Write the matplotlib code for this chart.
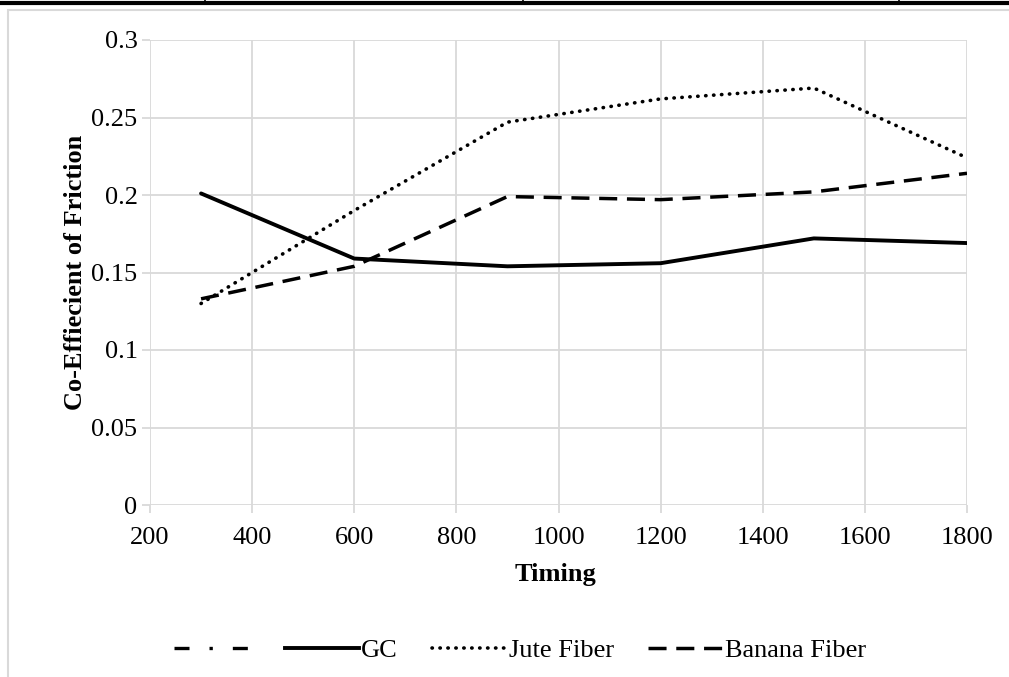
import matplotlib
matplotlib.use('Agg')
import matplotlib.pyplot as plt
from matplotlib.lines import Line2D
from matplotlib.patches import Rectangle

plt.rcParams['font.family'] = ['Liberation Serif', 'DejaVu Serif']

# data
timing = [300, 600, 900, 1200, 1500, 1800]
gc = [0.201, 0.159, 0.154, 0.156, 0.172, 0.169]
jute = [0.130, 0.190, 0.247, 0.262, 0.269, 0.224]
banana = [0.133, 0.154, 0.199, 0.197, 0.202, 0.214]

x_ticks = [200, 400, 600, 800, 1000, 1200, 1400, 1600, 1800]
y_ticks = [0, 0.05, 0.1, 0.15, 0.2, 0.25, 0.3]
y_tick_labels = ['0', '0.05', '0.1', '0.15', '0.2', '0.25', '0.3']

fig = plt.figure(figsize=(10.09, 6.77), dpi=100)
W, H = 1009, 677
FS = 19

# outer chart frame and table border at the top
fig.patches.append(Rectangle((8 / W, -0.1), 1.1, 1 - 10 / H + 0.1,
                             transform=fig.transFigure, fill=False,
                             edgecolor='#d9d9d9', lw=1.5))
fig.lines.append(Line2D([0, 1], [1 - 2.5 / H, 1 - 2.5 / H], transform=fig.transFigure,
                        color='black', lw=3))
for sx in [205, 523, 899]:
    fig.lines.append(Line2D([sx / W, sx / W], [1, 1 - 4 / H], transform=fig.transFigure,
                            color='black', lw=1.2))

ax = fig.add_axes([150 / W, 1 - 505 / H, (967 - 150) / W, (505 - 40) / H])

ax.plot(timing, gc, color='black', lw=2.8, solid_capstyle='round', label='GC')
ax.plot(timing, jute, color='black', lw=2.6, dashes=(0.1, 2.1),
        dash_capstyle='round', label='Jute Fiber')
ax.plot(timing, banana, color='black', lw=2.5, dashes=(5.2, 2.8), label='Banana Fiber')

ax.set_xlim(200, 1800)
ax.set_ylim(0, 0.3)
ax.set_xticks(x_ticks)
ax.set_yticks(y_ticks)
ax.set_yticklabels(y_tick_labels)
ax.grid(True, color='#d9d9d9', lw=1.3)
ax.set_axisbelow(True)
for s in ax.spines.values():
    s.set_visible(False)
ax.tick_params(axis='both', colors='#d9d9d9', labelcolor='black', length=6,
               width=1.3, labelsize=FS)
ax.tick_params(axis='x', pad=10)
ax.tick_params(axis='y', pad=3)

ax.set_xlabel('Timing', fontsize=FS, fontweight='bold')
ax.xaxis.set_label_coords(0.496, -0.125)
ax.set_ylabel('Co-Effiecient of Friction', fontsize=FS, fontweight='bold')
ax.yaxis.set_label_coords(-0.077, 0.5)

handles = [
    Line2D([], [], color='black', lw=2.4, dashes=(4.5, 6, 1, 6)),
    Line2D([], [], color='black', lw=2.8),
    Line2D([], [], color='black', lw=2.6, dashes=(0.1, 2.1), dash_capstyle='round'),
    Line2D([], [], color='black', lw=2.5, dashes=(5.2, 2.8)),
]
labels = ['', 'GC', 'Jute Fiber', 'Banana Fiber']
fig.legend(handles, labels, loc='center', bbox_to_anchor=(520 / W, 1 - 650 / H),
           ncol=4, frameon=False, fontsize=FS, handlelength=2.8,
           handletextpad=0.1, columnspacing=1.3)

fig.savefig('out.png', dpi=100)
